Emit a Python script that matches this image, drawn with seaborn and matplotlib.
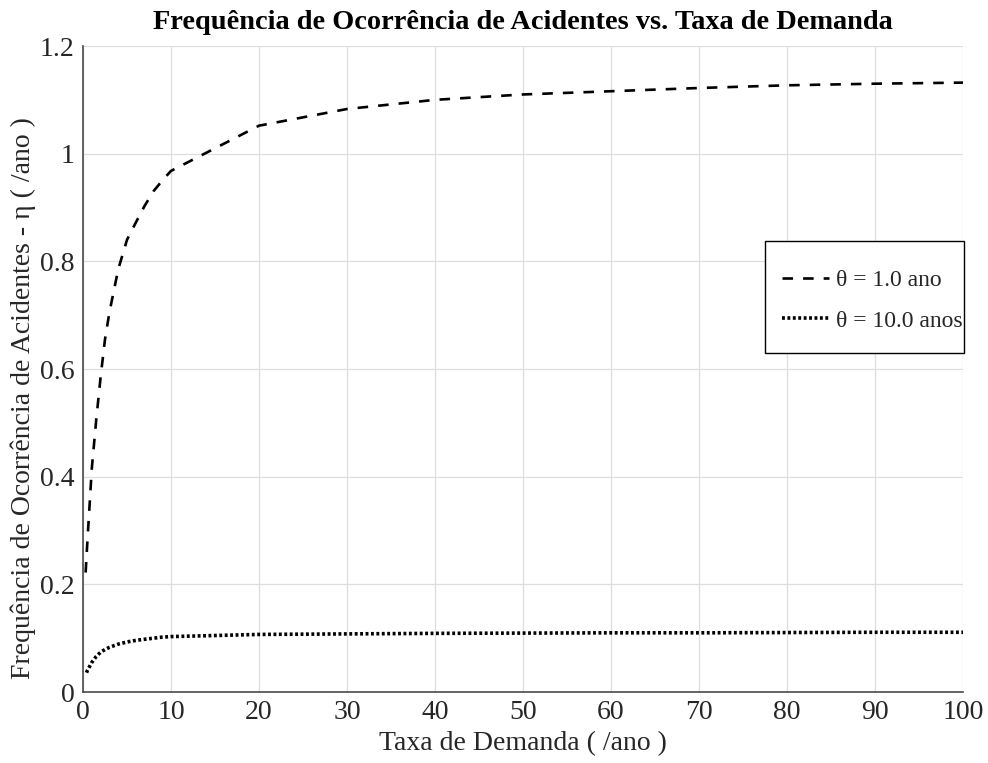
import matplotlib
matplotlib.use("Agg")
import matplotlib.pyplot as plt
import seaborn as sns
import pandas as pd
from matplotlib.ticker import FuncFormatter
from matplotlib.patches import Rectangle

# ---- data ----
lam_theta1 = [0.3, 0.5, 1, 1.5, 2, 2.5, 3, 4, 5, 6, 7, 8, 9, 10,
              20, 30, 40, 50, 60, 70, 80, 90, 100]
eta_theta1 = [0.222, 0.28, 0.415, 0.505, 0.585, 0.655, 0.705, 0.785, 0.84, 0.872,
              0.903, 0.93, 0.95, 0.968,
              1.052, 1.083, 1.100, 1.110, 1.116, 1.122, 1.127, 1.130, 1.132]

lam_theta10 = [0.4, 0.5, 1, 1.5, 2, 2.5, 3, 4, 5, 6, 7, 8, 9, 10,
               20, 30, 40, 50, 60, 70, 80, 90, 100]
eta_theta10 = [0.036, 0.040, 0.055, 0.066, 0.074, 0.079, 0.083, 0.089, 0.093, 0.096,
               0.098, 0.100, 0.102, 0.103,
               0.107, 0.108, 0.109, 0.1095, 0.110, 0.110, 0.1105, 0.111, 0.111]

label_theta1 = "θ = 1.0 ano"
label_theta10 = "θ = 10.0 anos"
x_ticks = [0, 10, 20, 30, 40, 50, 60, 70, 80, 90, 100]
y_ticks = [0, 0.2, 0.4, 0.6, 0.8, 1.0, 1.2]

title = "Frequência de Ocorrência de Acidentes vs. Taxa de Demanda"
xlabel = "Taxa de Demanda ( /ano )"
ylabel = "Frequência de Ocorrência de Acidentes - η ( /ano )"

df1 = pd.DataFrame({"x": lam_theta1, "y": eta_theta1})
df10 = pd.DataFrame({"x": lam_theta10, "y": eta_theta10})

sns.set_style("white")
plt.rcParams["font.family"] = ["Liberation Serif", "DejaVu Serif"]

fig = plt.figure(figsize=(9.88, 7.63), dpi=100)
ax = fig.add_axes([0.084, 0.093, 0.8907, 0.8467])

sns.lineplot(data=df1, x="x", y="y", ax=ax, color="black", lw=1.9,
             linestyle=(0, (4.0, 3.8)), label=label_theta1, sort=False,
             estimator=None)
sns.lineplot(data=df10, x="x", y="y", ax=ax, color="black", lw=2.6,
             linestyle=(0, (0.8, 0.7)), label=label_theta10, sort=False,
             estimator=None)

ax.set_xlim(0, 100)
ax.set_ylim(0, 1.2)
ax.set_xticks(x_ticks)
ax.set_yticks(y_ticks)
ax.yaxis.set_major_formatter(FuncFormatter(lambda v, p: f"{v:g}"))
ax.grid(True, color="#dedede", lw=0.9)
ax.set_axisbelow(True)

for s in ["top", "right"]:
    ax.spines[s].set_visible(False)
for s in ["left", "bottom"]:
    ax.spines[s].set_color("#4a4a4a")
    ax.spines[s].set_linewidth(1.2)

ax.tick_params(axis="both", direction="in", length=6, width=1.0,
               color="#4a4a4a", labelsize=20, labelcolor="#262626", pad=6)

ax.set_xlabel(xlabel, fontsize=20, color="#262626", labelpad=4)
ax.set_ylabel(ylabel, fontsize=20, color="#262626")
ax.yaxis.set_label_coords(-0.0535, 0.455)
ax.set_title(title, fontsize=20.4, fontweight="bold", color="black", pad=12)

# legend frame (box drawn separately so the text can sit close to the right edge)
ax.add_patch(Rectangle((0.775, 0.525), 0.226, 0.173, transform=ax.transAxes,
                       facecolor="white", edgecolor="black", lw=1.0,
                       clip_on=False, zorder=4))
leg = ax.legend(loc="center left", bbox_to_anchor=(0.794, 0.606),
                frameon=False, fontsize=17, handlelength=2.0,
                handletextpad=0.3, labelspacing=0.81, borderpad=0,
                borderaxespad=0)
leg.set_zorder(5)

fig.savefig("out.png", dpi=100)
